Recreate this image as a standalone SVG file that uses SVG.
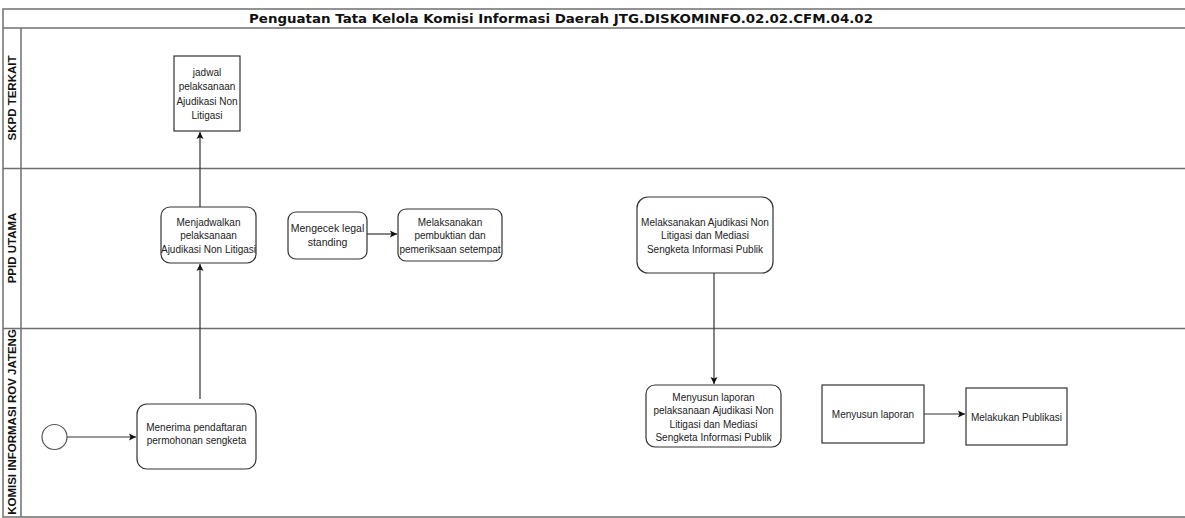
<svg xmlns="http://www.w3.org/2000/svg" width="1185" height="518" viewBox="0 0 1185 518">
<style>
.lane{fill:none;stroke:#6f6f6f;stroke-width:1.5}
.node{fill:#fff;stroke:#333;stroke-width:1.2}
.t{font-family:"Liberation Sans",Arial,sans-serif;font-size:10px;fill:#222;text-anchor:middle}
.lt{font-family:"Liberation Sans",Arial,sans-serif;font-size:11.5px;font-weight:bold;fill:#111;text-anchor:middle}
.title{font-family:"DejaVu Sans",Verdana,sans-serif;font-size:12px;font-weight:bold;fill:#111;text-anchor:middle}
.edge{fill:none;stroke:#333;stroke-width:1.2}
</style>
<defs>
<marker id="arr" markerWidth="10" markerHeight="10" refX="8" refY="5" orient="auto" markerUnits="userSpaceOnUse">
<path d="M1,1.5 L8,5 L1,8.5 L2.5,5 Z" fill="#111"/>
</marker>
</defs>
<rect width="1185" height="518" fill="#fff"/>
<g id="pool">
<path class="lane" d="M1185,9 H3 V517 H1185"/>
<line class="lane" x1="3" y1="28" x2="1185" y2="28"/>
<line class="lane" x1="3" y1="168.5" x2="1185" y2="168.5"/>
<line class="lane" x1="3" y1="328.5" x2="1185" y2="328.5"/>
<line class="lane" x1="21" y1="28" x2="21" y2="517"/>
<text class="title" x="561" y="23" textLength="624" lengthAdjust="spacingAndGlyphs">Penguatan Tata Kelola Komisi Informasi Daerah JTG.DISKOMINFO.02.02.CFM.04.02</text>
<text class="lt" transform="translate(16,98) rotate(-90)">SKPD TERKAIT</text>
<text class="lt" transform="translate(16,248) rotate(-90)">PPID UTAMA</text>
<text class="lt" transform="translate(16,422) rotate(-90)">KOMISI INFORMASI ROV JATENG</text>
</g>
<g id="connectors">
<line class="edge" x1="67" y1="437" x2="136" y2="437" marker-end="url(#arr)"/>
<line class="edge" x1="200" y1="399" x2="200" y2="264" marker-end="url(#arr)"/>
<line class="edge" x1="200" y1="207" x2="200" y2="132" marker-end="url(#arr)"/>
<line class="edge" x1="367" y1="234" x2="397" y2="234" marker-end="url(#arr)"/>
<line class="edge" x1="714" y1="273" x2="714" y2="384" marker-end="url(#arr)"/>
<line class="edge" x1="924" y1="414" x2="965" y2="414" marker-end="url(#arr)"/>
</g>
<g id="start"><circle class="node" cx="54.5" cy="437" r="12.5" style="stroke:#555"/></g>
<g id="n-menerima">
<rect class="node" x="137" y="404" width="119" height="65" rx="10"/>
<text class="t" x="196.5" y="431">Menerima pendaftaran</text>
<text class="t" x="196.5" y="443.5">permohonan sengketa</text>
</g>
<g id="n-menjadwalkan">
<rect class="node" x="161" y="207" width="95" height="56" rx="9"/>
<text class="t" x="208.5" y="225.5">Menjadwalkan</text>
<text class="t" x="208.5" y="238.5">pelaksanaan</text>
<text class="t" x="208.5" y="252.5">Ajudikasi Non Litigasi</text>
</g>
<g id="n-jadwal">
<rect class="node" x="174" y="56" width="66" height="75"/>
<text class="t" x="207" y="75.5">jadwal</text>
<text class="t" x="207" y="90">pelaksanaan</text>
<text class="t" x="207" y="104.5">Ajudikasi Non</text>
<text class="t" x="207" y="118.5">Litigasi</text>
</g>
<g id="n-mengecek">
<rect class="node" x="288" y="212" width="79" height="47" rx="8"/>
<text class="t" x="327.5" y="232" style="font-size:10.5px">Mengecek legal</text>
<text class="t" x="327.5" y="246" style="font-size:10.5px">standing</text>
</g>
<g id="n-pembuktian">
<rect class="node" x="398" y="209" width="104" height="52" rx="8"/>
<text class="t" x="450" y="225.5">Melaksanakan</text>
<text class="t" x="450" y="238.5">pembuktian dan</text>
<text class="t" x="450" y="252.5">pemeriksaan setempat</text>
</g>
<g id="n-ajudikasi">
<rect class="node" x="637" y="197" width="136" height="76" rx="11"/>
<text class="t" x="705" y="225.5">Melaksanakan Ajudikasi Non</text>
<text class="t" x="705" y="238.5">Litigasi dan Mediasi</text>
<text class="t" x="705" y="252.5">Sengketa Informasi Publik</text>
</g>
<g id="n-laporan-ajudikasi">
<rect class="node" x="646" y="385" width="135" height="62" rx="9"/>
<text class="t" x="713.5" y="400.5">Menyusun laporan</text>
<text class="t" x="713.5" y="414">pelaksanaan Ajudikasi Non</text>
<text class="t" x="713.5" y="427.5">Litigasi dan Mediasi</text>
<text class="t" x="713.5" y="441">Sengketa Informasi Publik</text>
</g>
<g id="n-menyusun">
<rect class="node" x="822" y="385" width="102" height="58"/>
<text class="t" x="873" y="417.5">Menyusun laporan</text>
</g>
<g id="n-publikasi">
<rect class="node" x="966" y="388" width="101" height="57"/>
<text class="t" x="1016.5" y="420.5">Melakukan Publikasi</text>
</g>
</svg>
